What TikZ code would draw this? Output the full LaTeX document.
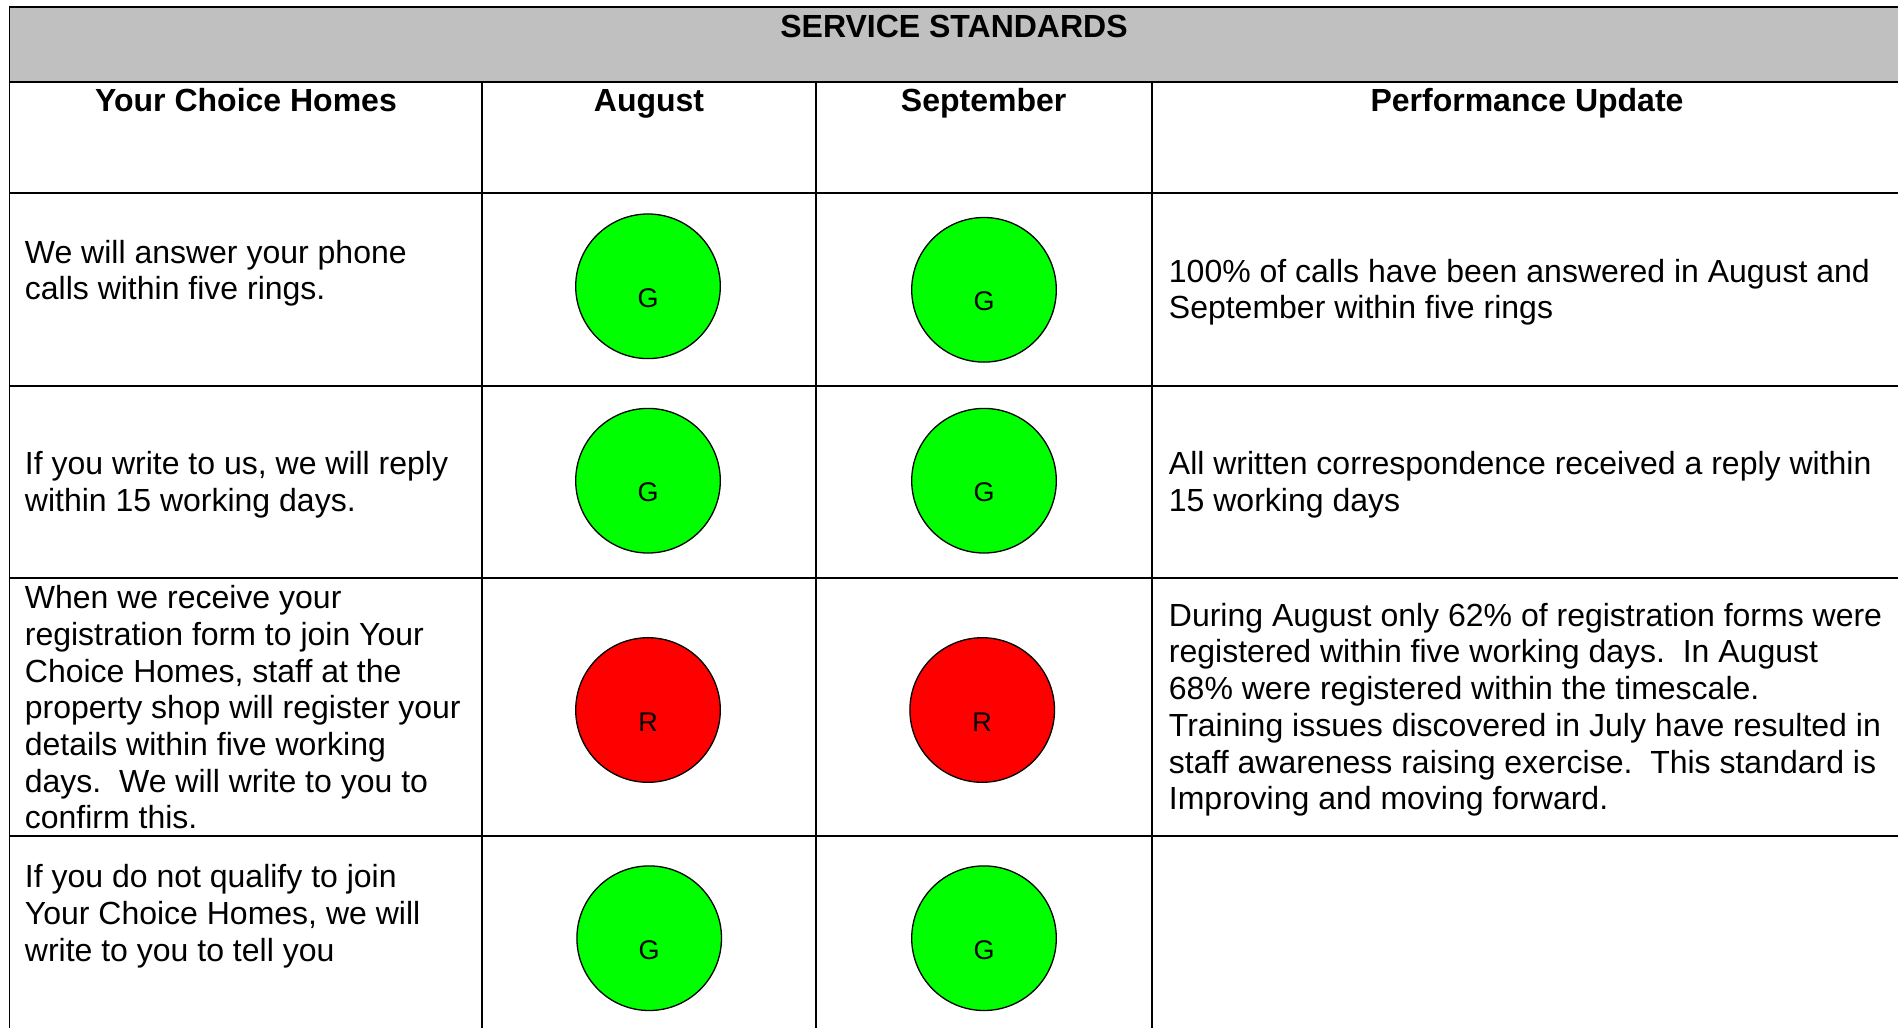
\documentclass[tikz,border=0pt]{standalone}
\usepackage{fontspec}
\setmainfont{Liberation Sans}
\definecolor{hdrgray}{HTML}{C0C0C0}
\definecolor{rag green}{HTML}{00FF00}
\definecolor{rag red}{HTML}{FF0000}
\begin{document}
\begin{tikzpicture}[x=0.5pt,y=-0.5pt,
  hline/.style={line width=1pt,black},
  vline/.style={line width=0.85pt,black},
  title/.style={font=\fontsize{16}{18.35}\selectfont\bfseries,inner sep=0pt,anchor=base},
  body/.style={font=\fontsize{16}{18.35}\selectfont\frenchspacing,inner sep=0pt,anchor=north west,align=left},
  ragcircle/.style={circle,draw=black,line width=0.65pt,minimum size=72.3pt,inner sep=0pt},
  ragg/.style={ragcircle,fill=rag green},
  ragr/.style={ragcircle,fill=rag red},
  ragletter/.style={font=\fontsize{13.5}{16}\selectfont,inner sep=0pt,anchor=base}
]
\useasboundingbox (0,0) rectangle (1898,1027);
\fill[white] (0,0) rectangle (1898,1027);
% header band
\fill[hdrgray] (9.5,6.7) rectangle (1900,81.7);
% horizontal rules
\foreach \yy in {6.7,81.7,193.3,386,577.5,836}
  \draw[hline] (9.5,\yy) -- (1900,\yy);
% vertical rules
\draw[vline] (9.5,5.7) -- (9.5,1030);
\foreach \xx in {482.3,815.7,1151.7}
  \draw[vline] (\xx,81.7) -- (\xx,1030);

% titles
\node[title] (ttl) at (954,37.5) {SERVICE STANDARDS};
\node[title] (h1) at (246,111.5) {Your Choice Homes};
\node[title] (h2) at (649,111.5) {August};
\node[title] (h3) at (983.6,111.5) {September};
\node[title] (h4) at (1527,111.5) {Performance Update};

% row 1
\node[body] (r1l) at (24.5,237) {\strut We will answer your phone\\calls within five rings.};
\node[body] (r1r) at (1168.5,256) {\strut 100\% of calls have been answered in August and\\September within five rings};
% row 2
\node[body] (r2l) at (24.5,448.8) {\strut If you write to us, we will reply\\within 15 working days.};
\node[body] (r2r) at (1168.5,448.8) {\strut All written correspondence received a reply within\\15 working days};
% row 3
\node[body] (r3l) at (24.5,582.6) {\strut When we receive your\\registration form to join Your\\Choice Homes, staff at the\\property shop will register your\\details within five working\\days.~~We will write to you to\\confirm this.};
\node[body] (r3r) at (1168.5,600.1) {\strut During August only 62\% of registration forms were\\registered within five working days.~~In August\\68\% were registered within the timescale.\\Training issues discovered in July have resulted in\\staff awareness raising exercise.~~This standard is\\Improving and moving forward.};
% row 4
\node[body] (r4l) at (24.5,861.6) {\strut If you do not qualify to join\\Your Choice Homes, we will\\write to you to tell you};

% RAG circles
\node[ragg] (a1) at (648,286.3) {};
\node[ragg] (s1) at (984,289.8) {};
\node[ragg] (a2) at (648,480.7) {};
\node[ragg] (s2) at (984,480.7) {};
\node[ragr] (a3) at (648,710) {};
\node[ragr] (s3) at (982.2,710) {};
\node[ragg] (a4) at (649.2,938.2) {};
\node[ragg] (s4) at (984,938.2) {};

\node[ragletter] (a1t) at ([yshift=-10.5pt]a1.center) {G};
\node[ragletter] (s1t) at ([yshift=-10.5pt]s1.center) {G};
\node[ragletter] (a2t) at ([yshift=-10.5pt]a2.center) {G};
\node[ragletter] (s2t) at ([yshift=-10.5pt]s2.center) {G};
\node[ragletter] (a3t) at ([yshift=-10.8pt]a3.center) {R};
\node[ragletter] (s3t) at ([yshift=-10.8pt]s3.center) {R};
\node[ragletter] (a4t) at ([yshift=-10.5pt]a4.center) {G};
\node[ragletter] (s4t) at ([yshift=-10.5pt]s4.center) {G};
\end{tikzpicture}
\end{document}
